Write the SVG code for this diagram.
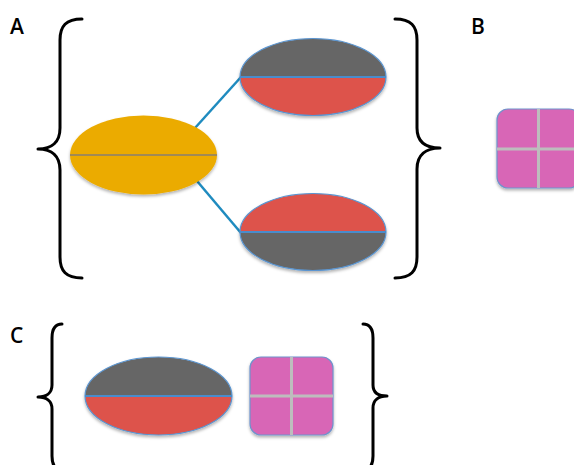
<svg xmlns="http://www.w3.org/2000/svg" width="574" height="465" viewBox="0 0 574 465">
  <style>
    .label { font-family: "Open Sans", "Liberation Sans", sans-serif; font-size: 21px; font-weight: 600; fill: #000; }
    .brace { fill: none; stroke: #000; stroke-width: 3; stroke-linecap: round; stroke-linejoin: round; }
    .link { stroke: #1f8bbf; stroke-width: 2.5; fill: none; }
    .gray { fill: #666666; }
    .red { fill: #dd524b; }
    .outline { fill: none; stroke: #5b95d0; stroke-width: 1.2; }
    .divider { stroke: #4a8ccc; stroke-width: 2; }
    .yellow { fill: #ebab00; }
    .ydiv { stroke: #a08a55; stroke-width: 2; }
    .tile { fill: #d866b6; stroke: #6f93cc; stroke-width: 1.2; }
    .cross { stroke: #bdbdbd; stroke-width: 3; }
  </style>
  <defs>
    <filter id="shadow" x="-20%" y="-20%" width="140%" height="150%">
      <feDropShadow dx="0" dy="2" stdDeviation="1.5" flood-color="#000" flood-opacity="0.3"/>
    </filter>
  </defs>

  <!-- panel letters -->
  <text class="label" x="10" y="34">A</text>
  <text class="label" x="471" y="34">B</text>
  <text class="label" x="10" y="343">C</text>

  <!-- braces -->
  <g id="braces">
    <path class="brace" d="M82,19 C66,19 60,26 60,40 L60,128 C60,142 52,149 38,149 C52,149 60,156 60,170 L60,257 C60,271 66,278 82,278"/>
    <path class="brace" d="M395,19 C411,19 417,26 417,40 L417,128 C417,142 426,148 440,148 C426,148 417,155 417,169 L417,257 C417,271 411,278 395,278"/>
    <path class="brace" d="M62,324 C55,324 52,329 52,338 L52,385 C52,393 46,397 38,397 C46,397 52,401 52,409 L52,456 C52,465 55,470 62,470"/>
    <path class="brace" d="M363,324 C370,324 373,329 373,338 L373,385 C373,393 379,396 387,396 C379,396 373,400 373,408 L373,456 C373,465 370,470 363,470"/>
  </g>

  <!-- connectors -->
  <g id="connectors">
    <line class="link" x1="195" y1="128" x2="241" y2="77"/>
    <line class="link" x1="197" y1="181" x2="241" y2="233"/>
  </g>

  <!-- parent cell -->
  <g id="parent" filter="url(#shadow)">
    <ellipse class="yellow" cx="143.5" cy="155" rx="73.5" ry="39.5"/>
    <line class="ydiv" x1="70" y1="155" x2="217" y2="155"/>
  </g>

  <!-- daughter cell, top -->
  <g id="daughter-top" filter="url(#shadow)">
    <path class="gray" d="M240,77 A73,38.5 0 0 1 386,77 Z"/>
    <path class="red" d="M240,77 A73,38.5 0 0 0 386,77 Z"/>
    <ellipse class="outline" cx="313" cy="77" rx="73" ry="38.5"/>
    <line class="divider" x1="240" y1="77" x2="386" y2="77"/>
  </g>

  <!-- daughter cell, bottom -->
  <g id="daughter-bottom" filter="url(#shadow)">
    <path class="red" d="M240,232 A73,38.5 0 0 1 386,232 Z"/>
    <path class="gray" d="M240,232 A73,38.5 0 0 0 386,232 Z"/>
    <ellipse class="outline" cx="313" cy="232" rx="73" ry="38.5"/>
    <line class="divider" x1="240" y1="232" x2="386" y2="232"/>
  </g>

  <!-- tile B -->
  <g id="tile-b" filter="url(#shadow)">
    <rect class="tile" x="497" y="109" width="83" height="79" rx="11"/>
    <line class="cross" x1="538.5" y1="109" x2="538.5" y2="188"/>
    <line class="cross" x1="497" y1="149" x2="580" y2="149"/>
  </g>

  <!-- cell C -->
  <g id="cell-c" filter="url(#shadow)">
    <path class="gray" d="M85,396 A73.5,39 0 0 1 232,396 Z"/>
    <path class="red" d="M85,396 A73.5,39 0 0 0 232,396 Z"/>
    <ellipse class="outline" cx="158.5" cy="396" rx="73.5" ry="39"/>
    <line class="divider" x1="85" y1="396" x2="232" y2="396"/>
  </g>

  <!-- tile C -->
  <g id="tile-c" filter="url(#shadow)">
    <rect class="tile" x="250" y="357" width="83" height="78" rx="11"/>
    <line class="cross" x1="291.5" y1="357" x2="291.5" y2="435"/>
    <line class="cross" x1="250" y1="396" x2="333" y2="396"/>
  </g>
</svg>
